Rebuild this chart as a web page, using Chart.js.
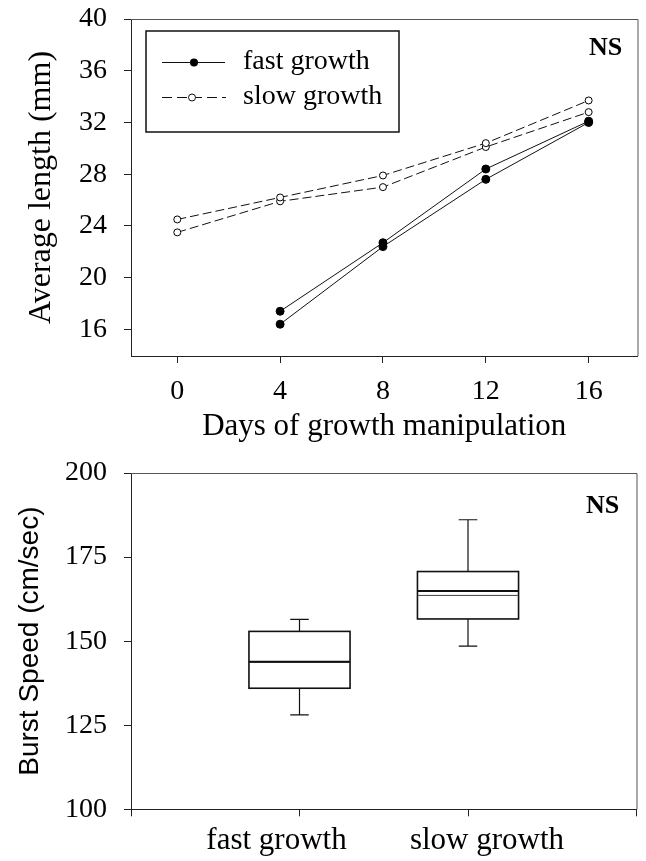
<!DOCTYPE html>
<html>
<head>
<script src="https://cdn.jsdelivr.net/npm/chart.js"></script>
<style>
  body { margin: 0; background: #fff; }
  #wrap { position: relative; width: 646px; height: 861px; }
  #wrap canvas { position: absolute; left: 0; top: 0; }
</style>
</head>

<body>
<div id="wrap">
  <canvas id="lenChart" width="646" height="861"></canvas>
  <canvas id="speedChart" width="646" height="861"></canvas>
</div>

<script>
  // top panel: average length over days (two replicate lines per treatment)
  const days = [0, 4, 8, 12, 16];
  const fastA = [null, 17.4, 22.7, 28.4, 32.1];
  const fastB = [null, 16.4, 22.4, 27.6, 32.0];
  const slowA = [24.5, 26.2, 27.9, 30.4, 33.7];
  const slowB = [23.5, 25.9, 27.0, 30.1, 32.8];
  const dayTicks = [0, 4, 8, 12, 16];
  const lengthTicks = [16, 20, 24, 28, 32, 36, 40];

  // bottom panel: burst speed box plots
  const groups = ['fast growth', 'slow growth'];
  const whiskerLow = [128.1, 148.5];
  const q1 = [136.0, 156.6];
  const median = [143.9, 164.9];
  const mean = [143.7, 163.6];
  const q3 = [152.9, 170.7];
  const whiskerHigh = [156.5, 186.1];
  const speedTicks = [100, 125, 150, 175, 200];

  const SERIF = '"Liberation Serif", "Times New Roman", "DejaVu Serif", serif';
  const SANS = '"Liberation Sans", Arial, "DejaVu Sans", sans-serif';
  const labelShift = [-23, 19]; // category labels sit a bit off their ticks in the original

  Chart.defaults.font.family = SERIF;
  Chart.defaults.color = '#000';

  function pts(vals) {
    const out = [];
    for (let i = 0; i < days.length; i++) {
      if (vals[i] !== null) out.push({x: days[i], y: vals[i]});
    }
    return out;
  }

  // y axis: fixed width, and drop the extra label padding chart.js adds above/below
  function fitY(s) {
    s.width = 131;
    s.paddingTop = 0;
    s.paddingBottom = 0;
  }

  const framePlugin = {
    id: 'frame',
    beforeDatasetsDraw(chart) {
      const {ctx, chartArea: a} = chart;
      ctx.save();
      ctx.strokeStyle = '#555';
      ctx.lineWidth = 1;
      ctx.beginPath();
      ctx.moveTo(a.left, a.top + 0.5);
      ctx.lineTo(a.right + 0.5, a.top + 0.5);
      ctx.lineTo(a.right + 0.5, a.bottom);
      ctx.stroke();
      ctx.restore();
    }
  };

  function nsPlugin(dx, dy) {
    return {
      id: 'ns',
      afterDraw(chart) {
        const {ctx, chartArea: a} = chart;
        ctx.save();
        ctx.font = 'bold 26px ' + SERIF;
        ctx.fillStyle = '#000';
        ctx.textAlign = 'center';
        ctx.textBaseline = 'middle';
        ctx.fillText('NS', a.right - dx, a.top + dy);
        ctx.restore();
      }
    };
  }

  const legendPlugin = {
    id: 'boxLegend',
    afterDraw(chart) {
      const ctx = chart.ctx;
      ctx.save();
      ctx.strokeStyle = '#111';
      ctx.lineWidth = 1.5;
      ctx.strokeRect(146, 31, 253, 101);
      ctx.lineWidth = 1;
      // fast growth sample
      ctx.beginPath();
      ctx.moveTo(162, 62.5); ctx.lineTo(225, 62.5);
      ctx.stroke();
      ctx.fillStyle = '#000';
      ctx.beginPath(); ctx.arc(194, 62.5, 4, 0, Math.PI * 2); ctx.fill();
      // slow growth sample
      ctx.setLineDash([10, 5]);
      ctx.beginPath();
      ctx.moveTo(162, 97.5); ctx.lineTo(226, 97.5);
      ctx.stroke();
      ctx.setLineDash([]);
      ctx.fillStyle = '#fff';
      ctx.beginPath(); ctx.arc(192, 97.5, 3.5, 0, Math.PI * 2); ctx.fill(); ctx.stroke();
      ctx.fillStyle = '#000';
      ctx.font = '28px ' + SERIF;
      ctx.textBaseline = 'middle';
      ctx.fillText('fast growth', 243, 62);
      ctx.fillText('slow growth', 243, 97);
      ctx.restore();
    }
  };

  const boxPlugin = {
    id: 'boxes',
    afterDatasetsDraw(chart) {
      const {ctx, scales: {x, y}} = chart;
      ctx.save();
      ctx.strokeStyle = '#111';
      groups.forEach((g, i) => {
        const cx = x.getPixelForValue(i + 1);
        const half = x.getPixelForValue(i + 1.3) - cx;
        const cap = x.getPixelForValue(i + 1.055) - cx;
        const yLo = y.getPixelForValue(whiskerLow[i]);
        const yQ1 = y.getPixelForValue(q1[i]);
        const yMed = y.getPixelForValue(median[i]);
        const yMean = y.getPixelForValue(mean[i]);
        const yQ3 = y.getPixelForValue(q3[i]);
        const yHi = y.getPixelForValue(whiskerHigh[i]);
        // whiskers
        ctx.lineWidth = 1.2;
        ctx.beginPath();
        ctx.moveTo(cx, yQ3); ctx.lineTo(cx, yHi);
        ctx.moveTo(cx - cap, yHi); ctx.lineTo(cx + cap, yHi);
        ctx.moveTo(cx, yQ1); ctx.lineTo(cx, yLo);
        ctx.moveTo(cx - cap, yLo); ctx.lineTo(cx + cap, yLo);
        ctx.stroke();
        // box
        ctx.lineWidth = 1.6;
        ctx.strokeRect(cx - half, yQ3, half * 2, yQ1 - yQ3);
        // mean (thin) and median (thick)
        ctx.lineWidth = 1;
        ctx.strokeStyle = '#444';
        ctx.beginPath(); ctx.moveTo(cx - half, yMean); ctx.lineTo(cx + half, yMean); ctx.stroke();
        ctx.strokeStyle = '#111';
        ctx.lineWidth = 2;
        ctx.beginPath(); ctx.moveTo(cx - half, yMed); ctx.lineTo(cx + half, yMed); ctx.stroke();
      });
      // category names under their ticks
      ctx.fillStyle = '#000';
      ctx.font = '31px ' + SERIF;
      ctx.textAlign = 'center';
      ctx.textBaseline = 'middle';
      groups.forEach((g, i) => {
        ctx.fillText(g, x.getPixelForValue(i + 1) + labelShift[i], x.top + 31.5);
      });
      ctx.restore();
    }
  };

  const lineStyle = (vals, filled) => ({
    data: pts(vals),
    showLine: true,
    borderColor: '#111',
    borderWidth: 1,
    borderDash: filled ? [] : [9, 4],
    pointRadius: filled ? 4 : 3.5,
    pointBackgroundColor: filled ? '#000' : '#fff',
    pointBorderColor: '#000',
    pointBorderWidth: 1
  });

  function drawCharts() {
    new Chart(document.getElementById('lenChart'), {
      type: 'scatter',
      data: {
        datasets: [
          lineStyle(fastA, true),
          lineStyle(fastB, true),
          lineStyle(slowA, false),
          lineStyle(slowB, false)
        ]
      },
      options: {
        responsive: false,
        animation: false,
        layout: {padding: {top: 19, right: 8.5, left: 0, bottom: 415}},
        plugins: {legend: {display: false}, tooltip: {enabled: false}},
        scales: {
          x: {
            type: 'linear', min: -1.8, max: 17.9,
            afterBuildTicks: s => { s.ticks = dayTicks.map(v => ({value: v})); },
            afterFit: s => { s.height = 90; },
            grid: {drawOnChartArea: false, drawTicks: true, tickLength: 7, color: '#222'},
            border: {color: '#222', width: 1},
            ticks: {font: {size: 28, lineHeight: 1}, color: '#000', padding: 14.5, maxRotation: 0, autoSkip: false},
            title: {display: true, text: 'Days of growth manipulation', color: '#000',
                    font: {size: 31, lineHeight: 1}, padding: {top: 0, bottom: 4}}
          },
          y: {
            type: 'linear', min: 13.94, max: 40,
            afterBuildTicks: s => { s.ticks = lengthTicks.map(v => ({value: v})); },
            afterFit: fitY,
            grid: {drawOnChartArea: false, drawTicks: true, tickLength: 7, color: '#222'},
            border: {color: '#222', width: 1},
            ticks: {font: {size: 28, lineHeight: 1}, color: '#000', padding: 17},
            title: {display: true, text: 'Average length (mm)', color: '#000',
                    font: {size: 32, lineHeight: 1}, padding: {top: 26, bottom: 0}}
          }
        }
      },
      plugins: [framePlugin, legendPlugin, nsPlugin(32, 29)]
    });

    new Chart(document.getElementById('speedChart'), {
      type: 'scatter',
      data: {datasets: []},
      options: {
        responsive: false,
        animation: false,
        layout: {padding: {top: 473, right: 9.5, left: 0, bottom: 0}},
        plugins: {legend: {display: false}, tooltip: {enabled: false}},
        scales: {
          x: {
            type: 'linear', min: 0, max: 3,
            afterBuildTicks: s => { s.ticks = [0, 1, 2, 3].map(v => ({value: v})); },
            afterFit: s => { s.height = 51.7; },
            grid: {drawOnChartArea: false, drawTicks: true, tickLength: 7, color: '#222'},
            border: {color: '#222', width: 1},
            ticks: {display: false}
          },
          y: {
            type: 'linear', min: 100, max: 200,
            afterBuildTicks: s => { s.ticks = speedTicks.map(v => ({value: v})); },
            afterFit: fitY,
            grid: {drawOnChartArea: false, drawTicks: true, tickLength: 7, color: '#222'},
            border: {color: '#222', width: 1},
            ticks: {font: {size: 28, lineHeight: 1}, color: '#000', padding: 17},
            title: {display: true, text: 'Burst Speed (cm/sec)', color: '#000',
                    font: {family: SANS, size: 28, lineHeight: 1}, padding: {top: 16, bottom: 0}}
          }
        }
      },
      plugins: [framePlugin, boxPlugin, nsPlugin(34, 33)]
    });
  }

  Promise.all([
    document.fonts.load('28px "Liberation Serif"'),
    document.fonts.load('bold 26px "Liberation Serif"'),
    document.fonts.load('28px "Liberation Sans"')
  ]).then(drawCharts, drawCharts);
</script>
</body>
</html>
